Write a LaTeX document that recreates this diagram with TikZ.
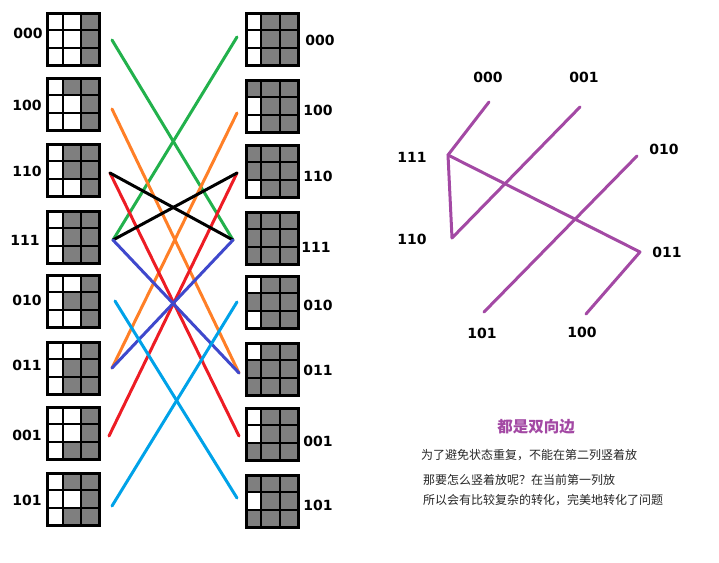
\documentclass[tikz,border=0pt]{standalone}
\usepackage{fontspec}
\setmainfont{DejaVu Sans}
\newfontfamily\cjk{Noto Sans CJK SC}
\usetikzlibrary{calc, positioning}
\definecolor{CellGray}{HTML}{7F7F7F}
\definecolor{PaintGreen}{HTML}{22B14C}
\definecolor{PaintOrange}{HTML}{FF7F27}
\definecolor{PaintRed}{HTML}{ED1C24}
\definecolor{PaintBlue}{HTML}{3F48CC}
\definecolor{PaintSky}{HTML}{00A2E8}
\definecolor{PaintPurple}{HTML}{A349A4}

% one 3x3 board: name, centre, nine cells (1 = grey)
\newcommand{\board}[3]{%
  \node[boardbox] (#1) at (#2) {};
  \foreach \v [count=\k from 0] in {#3}{%
    \pgfmathtruncatemacro{\cc}{mod(\k,3)}%
    \pgfmathtruncatemacro{\rr}{\k/3}%
    \pgfmathsetmacro{\xa}{{0,15,33.5}[\cc]}%
    \pgfmathsetmacro{\wa}{{15,18.5,18.5}[\cc]}%
    \ifnum\v=1
      \fill[CellGray] ($(#1.north west)+(\xa,\rr*17.33)$) rectangle ++(\wa,17.33);
    \fi
  }%
  \foreach \xa in {15,33.5}{%
    \draw[gridline] ($(#1.north west)+(\xa,0)$) -- ++(0,52);
  }%
  \foreach \i in {1,2}{%
    \draw[gridline] ($(#1.north west)+(0,\i*17.33)$) -- ++(52,0);
  }%
  \draw[frame] (#1.north west) rectangle (#1.south east);
}

\begin{document}
\begin{tikzpicture}[
    x=1pt, y=-1pt,
    boardbox/.style={minimum size=52pt, inner sep=0pt, outer sep=0pt},
    gridline/.style={line width=2pt, black},
    frame/.style={line width=3pt, black},
    lbl/.style={font=\bfseries\fontsize{14}{16}\selectfont, inner sep=0pt},
    wire/.style={line width=3pt, line cap=round},
    edge/.style={line width=3pt, PaintPurple, line cap=round, line join=round},
    note/.style={font=\cjk\fontsize{12}{14}\selectfont, anchor=west, inner sep=0pt, text=black!85}
  ]
  \useasboundingbox (0,0) rectangle (719,562);

  % left column
  \board{L000}{73.5,39}{0,0,1,0,0,1,0,0,1}
  \board{L100}{73.5,104}{0,1,1,0,0,1,0,0,1}
  \board{L110}{73.5,170}{0,1,1,0,1,1,0,0,1}
  \board{L111}{73.5,237}{0,1,1,0,1,1,0,1,1}
  \board{L010}{73.5,301}{0,0,1,0,1,1,0,0,1}
  \board{L011}{73.5,368}{0,0,1,0,1,1,0,1,1}
  \board{L001}{73.5,433}{0,0,1,0,0,1,0,1,1}
  \board{L101}{73.5,499}{0,1,1,0,0,1,0,1,1}

  % right column
  \board{R000}{272,39}{0,1,1,0,1,1,0,1,1}
  \board{R100}{272,106}{1,1,1,0,1,1,0,1,1}
  \board{R110}{272,171}{1,1,1,1,1,1,0,1,1}
  \board{R111}{272,238}{1,1,1,1,1,1,1,1,1}
  \board{R010}{272,302}{0,1,1,1,1,1,0,1,1}
  \board{R011}{272,369}{0,1,1,1,1,1,1,1,1}
  \board{R001}{272,434}{0,1,1,0,1,1,1,1,1}
  \board{R101}{272,501}{1,1,1,0,1,1,1,1,1}

  % labels
  \node[lbl] (tL000) at (28,33) {000};
  \node[lbl] (tL100) at (27,105) {100};
  \node[lbl] (tL110) at (27,171) {110};
  \node[lbl] (tL111) at (25,240) {111};
  \node[lbl] (tL010) at (27,300) {010};
  \node[lbl] (tL011) at (27,365) {011};
  \node[lbl] (tL001) at (27,435) {001};
  \node[lbl] (tL101) at (27,500) {101};
  \node[lbl] (tR000) at (320,40) {000};
  \node[lbl] (tR100) at (318,110) {100};
  \node[lbl] (tR110) at (318,176) {110};
  \node[lbl] (tR111) at (316,247) {111};
  \node[lbl] (tR010) at (318,305) {010};
  \node[lbl] (tR011) at (318,370) {011};
  \node[lbl] (tR001) at (318,441) {001};
  \node[lbl] (tR101) at (318,505) {101};

  % wire ends
  \coordinate (l000) at (112,40);
  \coordinate (l100) at (112,109);
  \coordinate (l110) at (110,173);
  \coordinate (l111) at (113,240);
  \coordinate (l010) at (115,301);
  \coordinate (l011) at (112,368);
  \coordinate (l001) at (109,436);
  \coordinate (l101) at (112,506);
  \coordinate (r000) at (237,37);
  \coordinate (r100) at (237,113);
  \coordinate (r110) at (237,173);
  \coordinate (r111) at (233,240);
  \coordinate (r010) at (237,302);
  \coordinate (r011) at (239,373);
  \coordinate (r001) at (239,436);
  \coordinate (r101) at (237,498);

  \draw[wire, PaintGreen] (l000) -- (r111);
  \draw[wire, PaintGreen] (l111) -- (r000);
  \draw[wire, PaintOrange] (l100) -- (r011);
  \draw[wire, PaintOrange] (l011) -- (r100);
  \draw[wire, PaintRed] (l110) -- (r001);
  \draw[wire, PaintRed] (l001) -- (r110);
  \draw[wire, black] (l110) -- (r111);
  \draw[wire, black] (l111) -- (r110);
  \draw[wire, PaintBlue] (l111) -- (r011);
  \draw[wire, PaintBlue] (l011) -- (r111);
  \draw[wire, PaintSky] (l010) -- (r101);
  \draw[wire, PaintSky] (l101) -- (r010);

  % state graph
  \coordinate (v000) at (489,102);
  \coordinate (v001) at (580,107);
  \coordinate (v111) at (448,155);
  \coordinate (v110) at (452,238);
  \coordinate (v010) at (637,156);
  \coordinate (v011) at (640,252);
  \coordinate (v101) at (484,312);
  \coordinate (v100) at (586,314);

  \draw[edge] (v000) -- (v111) -- (v110) -- (v001);
  \draw[edge] (v111) -- (v011) -- (v100);
  \draw[edge] (v010) -- (v101);

  \node[lbl] (g000) at (488,77) {000};
  \node[lbl] (g001) at (584,77) {001};
  \node[lbl] (g111) at (412,157) {111};
  \node[lbl] (g110) at (412,239) {110};
  \node[lbl] (g010) at (664,149) {010};
  \node[lbl] (g011) at (667,252) {011};
  \node[lbl] (g101) at (482,333) {101};
  \node[lbl] (g100) at (582,332) {100};

  % notes
  \node[font=\cjk\bfseries\fontsize{15.5}{18}\selectfont, text=PaintPurple, inner sep=0pt] (title) at (536,427) {都是双向边};
  \node[note] (n1) at (421,455) {为了避免状态重复，不能在第二列竖着放};
  \node[note] (n2) at (423,480) {那要怎么竖着放呢？在当前第一列放};
  \node[note] (n3) at (423,500) {所以会有比较复杂的转化，完美地转化了问题};
\end{tikzpicture}
\end{document}
